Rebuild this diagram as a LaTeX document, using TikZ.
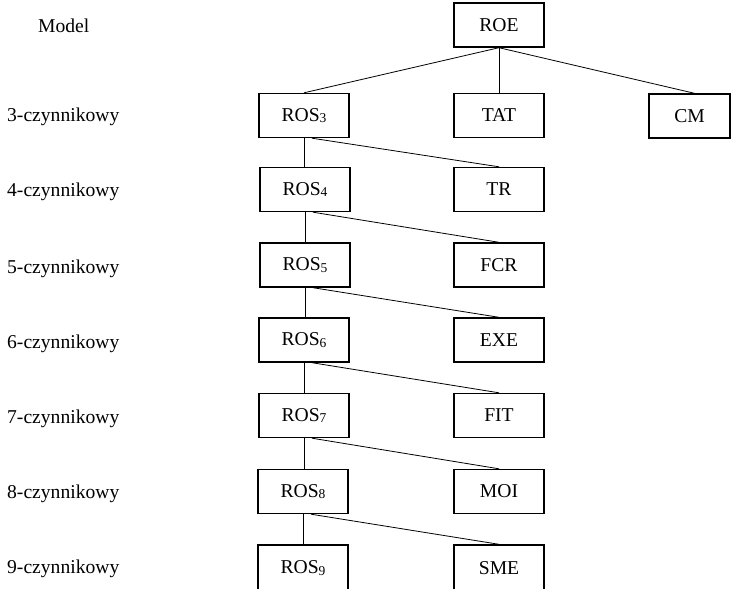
\documentclass[tikz,border=0pt]{standalone}
\usepackage{fontspec}
\setmainfont{Liberation Serif}
\usetikzlibrary{calc}
\newcommand{\sbn}[1]{{\fontsize{13.5}{13.5}\selectfont\raisebox{-1.5pt}{#1}}}
\begin{document}
\begin{tikzpicture}[x=1pt,y=-1pt,
  txt/.style={font=\fontsize{19.6}{22}\selectfont, inner sep=0pt},
  boxnode/.style={txt, draw, line width=1.4pt, minimum width=90pt, minimum height=44pt},
  link/.style={line width=0.8pt}]
\useasboundingbox (0,0) rectangle (731,589);
% labels
\node[txt, anchor=base west] (lm) at (38,32) {Model};
\node[txt, anchor=base west] (l3) at (7,121) {3-czynnikowy};
\node[txt, anchor=base west] (l4) at (7,196.5) {4-czynnikowy};
\node[txt, anchor=base west] (l5) at (7,273) {5-czynnikowy};
\node[txt, anchor=base west] (l6) at (7,348) {6-czynnikowy};
\node[txt, anchor=base west] (l7) at (7,423) {7-czynnikowy};
\node[txt, anchor=base west] (l8) at (7,498) {8-czynnikowy};
\node[txt, anchor=base west] (l9) at (7,573) {9-czynnikowy};
% boxes
\node[boxnode] (roe) at (499,25) {ROE};
\node[boxnode] (ros3) at (304,115.5) {ROS\sbn{3}};
\node[boxnode] (tat) at (499,115.5) {TAT};
\node[boxnode, minimum width=81pt] (cm) at (689.5,116) {CM};
\node[boxnode] (ros4) at (305,189.5) {ROS\sbn{4}};
\node[boxnode] (tr) at (499,189.5) {TR};
\node[boxnode] (ros5) at (305,265) {ROS\sbn{5}};
\node[boxnode] (fcr) at (499,265) {FCR};
\node[boxnode] (ros6) at (304,340) {ROS\sbn{6}};
\node[boxnode] (exe) at (499,340) {EXE};
\node[boxnode] (ros7) at (304,415.5) {ROS\sbn{7}};
\node[boxnode] (fit) at (499,415.5) {FIT};
\node[boxnode] (ros8) at (303,491.5) {ROS\sbn{8}};
\node[boxnode] (moi) at (499,491.5) {MOI};
\node[boxnode, minimum height=46pt] (ros9) at (303,568) {ROS\sbn{9}};
\node[boxnode, minimum height=46pt] (sme) at (499,568) {SME};
% connectors
\draw[link] (roe.south) -- (ros3.north);
\draw[link] (roe.south) -- (tat.north);
\draw[link] (roe.south) -- ($(cm.north)+(5,0)$);
\foreach \p/\c/\r in {ros3/ros4/tr, ros4/ros5/fcr, ros5/ros6/exe, ros6/ros7/fit, ros7/ros8/moi, ros8/ros9/sme}{
  \draw[link] (\p.south) -- (\p.south |- \c.north);
  \draw[link] ($(\p.south)+(8,0)$) -- (\r.north);
}
\end{tikzpicture}
\end{document}
